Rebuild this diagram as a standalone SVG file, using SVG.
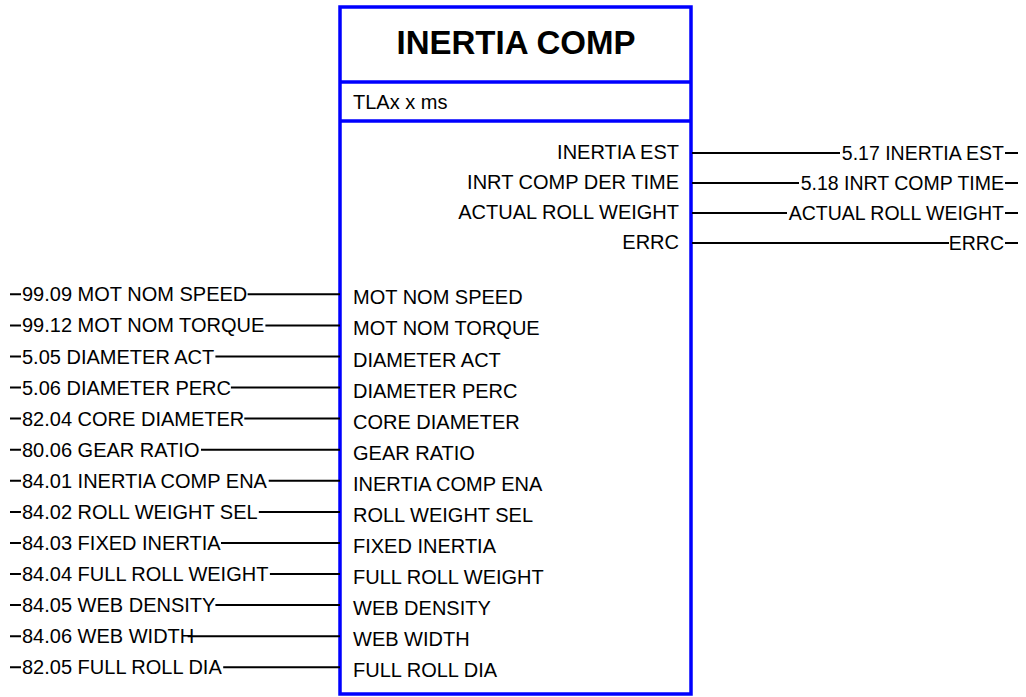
<svg xmlns="http://www.w3.org/2000/svg" width="1026" height="697" viewBox="0 0 1026 697">
<style>
text{font-family:"Liberation Sans",Arial,sans-serif;font-size:20px;fill:#000}
.title{font-size:33px;font-weight:bold}
.out{font-size:19.5px}
.end{text-anchor:end}
.mid{text-anchor:middle}
.box{fill:#fff;stroke:#0000ff;stroke-width:3.5}
.div{stroke:#0000ff;stroke-width:3.5}
.w{stroke:#000;stroke-width:2;fill:none}
</style>
<rect width="1026" height="697" fill="#fff"/>
<g id="block">
<rect class="box" x="340" y="7" width="351" height="687"/>
<line class="div" x1="340" y1="82" x2="691" y2="82"/>
<line class="div" x1="340" y1="121" x2="691" y2="121"/>
<text class="title mid" x="516" y="54">INERTIA COMP</text>
<text x="353" y="109">TLAx x ms</text>
<text class="end" x="679" y="159">INERTIA EST</text>
<text class="end" x="679" y="189">INRT COMP DER TIME</text>
<text class="end" x="679" y="219">ACTUAL ROLL WEIGHT</text>
<text class="end" x="679" y="249">ERRC</text>
<text x="353" y="304.3">MOT NOM SPEED</text>
<text x="353" y="335.4">MOT NOM TORQUE</text>
<text x="353" y="366.5">DIAMETER ACT</text>
<text x="353" y="397.5">DIAMETER PERC</text>
<text x="353" y="428.6">CORE DIAMETER</text>
<text x="353" y="459.7">GEAR RATIO</text>
<text x="353" y="490.8">INERTIA COMP ENA</text>
<text x="353" y="521.9">ROLL WEIGHT SEL</text>
<text x="353" y="553">FIXED INERTIA</text>
<text x="353" y="584">FULL ROLL WEIGHT</text>
<text x="353" y="615.1">WEB DENSITY</text>
<text x="353" y="646.2">WEB WIDTH</text>
<text x="353" y="677.3">FULL ROLL DIA</text>
</g>
<g id="outputs">
<text class="end out" x="1004" y="160">5.17 INERTIA EST</text>
<text class="end out" x="1004" y="190">5.18 INRT COMP TIME</text>
<text class="end out" x="1004" y="220">ACTUAL ROLL WEIGHT</text>
<text class="end out" x="1004" y="250">ERRC</text>
</g>
<g id="inputs">
<text x="22" y="301.3">99.09 MOT NOM SPEED</text>
<text x="22" y="332.4">99.12 MOT NOM TORQUE</text>
<text x="22" y="363.5">5.05 DIAMETER ACT</text>
<text x="22" y="394.5">5.06 DIAMETER PERC</text>
<text x="22" y="425.6">82.04 CORE DIAMETER</text>
<text x="22" y="456.7">80.06 GEAR RATIO</text>
<text x="22" y="487.8">84.01 INERTIA COMP ENA</text>
<text x="22" y="518.9">84.02 ROLL WEIGHT SEL</text>
<text x="22" y="550">84.03 FIXED INERTIA</text>
<text x="22" y="581">84.04 FULL ROLL WEIGHT</text>
<text x="22" y="612.1">84.05 WEB DENSITY</text>
<text x="22" y="643.2">84.06 WEB WIDTH</text>
<text x="22" y="674.3">82.05 FULL ROLL DIA</text>
</g>
<g id="connectors" class="w">
<path d="M692 153H840M1005 153H1018"/>
<path d="M692 183H799M1005 183H1018"/>
<path d="M692 213H787M1005 213H1018"/>
<path d="M692 243H949M1005 243H1018"/>
<path d="M10 294.3H21M247.6 294.3H340"/>
<path d="M10 325.4H21M265.4 325.4H340"/>
<path d="M10 356.5H21M215.4 356.5H340"/>
<path d="M10 387.5H21M230.9 387.5H340"/>
<path d="M10 418.6H21M244.3 418.6H340"/>
<path d="M10 449.7H21M201 449.7H340"/>
<path d="M10 480.8H21M268.7 480.8H340"/>
<path d="M10 511.9H21M258.8 511.9H340"/>
<path d="M10 543H21M221 543H340"/>
<path d="M10 574H21M269.9 574H340"/>
<path d="M10 605.1H21M215.4 605.1H340"/>
<path d="M10 636.2H21M187.6 636.2H340"/>
<path d="M10 667.3H21M223.2 667.3H340"/>
</g>
</svg>
